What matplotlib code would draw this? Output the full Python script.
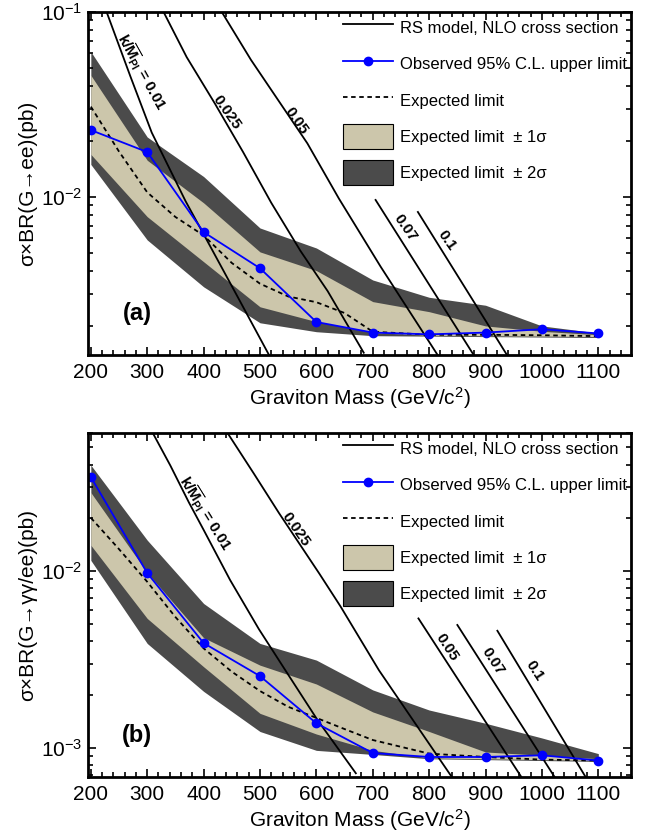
import matplotlib
matplotlib.use('Agg')
import matplotlib.pyplot as plt
from matplotlib.ticker import MultipleLocator, LogLocator, NullFormatter
from matplotlib.lines import Line2D
from matplotlib.patches import Patch

plt.rcParams['font.family'] = ['Liberation Sans', 'DejaVu Sans']
plt.rcParams['mathtext.fontset'] = 'custom'
plt.rcParams['mathtext.rm'] = 'Liberation Sans'
plt.rcParams['mathtext.it'] = 'Liberation Sans:italic'
plt.rcParams['mathtext.bf'] = 'Liberation Sans:bold'

# graviton masses (GeV/c^2)
masses = [200, 300, 400, 500, 600, 700, 800, 900, 1000, 1100]
exp_masses = [200, 250, 300, 350, 400, 450, 500, 550, 600, 650, 700, 800, 900, 1000, 1100]

# (a) G -> ee
ee_obs = [0.023, 0.0175, 0.00646, 0.00412, 0.00211, 0.00185, 0.00181, 0.00185, 0.00193, 0.00183]
ee_exp = [0.0308, 0.0176, 0.0106, 0.0078, 0.0062, 0.0044, 0.0034, 0.0029, 0.0027, 0.00236,
          0.00187, 0.0018, 0.0018, 0.00179, 0.00177]
ee_2up = [0.061, 0.0211, 0.0129, 0.0068, 0.0053, 0.00356, 0.00287, 0.0026, 0.00201, 0.00184]
ee_1up = [0.0455, 0.0158, 0.0093, 0.00505, 0.0040, 0.00272, 0.0024, 0.00201, 0.00188, 0.0018]
ee_1dn = [0.017, 0.00783, 0.00447, 0.00255, 0.00212, 0.00185, 0.00179, 0.00178, 0.00177, 0.00176]
ee_2dn = [0.015, 0.00586, 0.00327, 0.00209, 0.00187, 0.00178, 0.00177, 0.00176, 0.00175, 0.00174]

# RS model NLO cross sections, panel (a)
ee_rs_m = {
    '0.01': [228, 270, 308, 368, 400, 460, 516],
    '0.025': [329, 370, 420, 470, 520, 572, 620, 684],
    '0.05': [430, 484, 584, 640, 714, 815],
    '0.07': [705, 879],
    '0.1': [780, 938],
}
ee_rs_s = {
    '0.01': [0.1, 0.045, 0.0223, 0.0095, 0.0063, 0.0029, 0.0014],
    '0.025': [0.1, 0.057, 0.032, 0.0175, 0.0093, 0.0051, 0.0031, 0.00144],
    '0.05': [0.1026, 0.0551, 0.0195, 0.0098, 0.0042, 0.0014],
    '0.07': [0.00964, 0.0014],
    '0.1': [0.0083, 0.0014],
}

# (b) G -> gamma gamma / ee
gg_obs = [0.034, 0.00975, 0.00392, 0.00255, 0.00138, 0.000937, 0.00089, 0.00089, 0.00091, 0.00085]
gg_exp = [0.0200, 0.0133, 0.0087, 0.0055, 0.00366, 0.0027, 0.0021, 0.00171, 0.00148, 0.00128,
          0.00111, 0.00093, 0.00089, 0.00086, 0.00085]
gg_2up = [0.0397, 0.01496, 0.00656, 0.0039, 0.00314, 0.00213, 0.00164, 0.00138, 0.00114, 0.00093]
gg_1up = [0.0278, 0.0098, 0.0042, 0.00294, 0.0023, 0.0016, 0.00124, 0.00095, 0.00091, 0.00087]
gg_1dn = [0.014, 0.0054, 0.00288, 0.00157, 0.0012, 0.00097, 0.00088, 0.00087, 0.00086, 0.00085]
gg_2dn = [0.0115, 0.0039, 0.00209, 0.00124, 0.00097, 0.00092, 0.00087, 0.00086, 0.00085, 0.00084]

gg_rs_m = {
    '0.01': [307, 341, 374, 400, 447, 498, 552, 602, 670],
    '0.025': [439, 489, 534, 605, 643, 711, 841],
    '0.05': [781, 963],
    '0.07': [850, 1022],
    '0.1': [921, 1077],
}
gg_rs_s = {
    '0.01': [0.0627, 0.0395, 0.0244, 0.0171, 0.0089, 0.0047, 0.00254, 0.00144, 0.00072],
    '0.025': [0.0627, 0.0356, 0.0212, 0.0097, 0.0063, 0.00275, 0.00068],
    '0.05': [0.0054, 0.00069],
    '0.07': [0.00496, 0.00069],
    '0.1': [0.0046, 0.00069],
}

# label positions (mass, sigma) and rotation for the RS curves
ee_lab = {'0.01': (290, 0.0474, -61), '0.025': (441, 0.0288, -55), '0.05': (565, 0.0258, -55),
          '0.07': (757, 0.0068, -55), '0.1': (831, 0.00586, -55)}
gg_lab = {'0.01': (402, 0.021, -58), '0.025': (564, 0.0173, -55), '0.05': (832, 0.00373, -57),
          '0.07': (912, 0.0031, -57), '0.1': (986, 0.00272, -57)}

beige = '#CCC6AB'
dark = '#4B4B4B'


def draw_panel(ax, obs, exp, up2, up1, dn1, dn2, rs_m, rs_s, labs, ylim, ylab, tag):
    ax.fill_between(masses, dn2, up2, color=dark, lw=0)
    ax.fill_between(masses, dn1, up1, color=beige, lw=0)
    ax.plot(exp_masses, exp, color='black', ls=(0, (2.5, 2)), lw=1.3)
    for k in rs_m:
        ax.plot(rs_m[k], rs_s[k], color='black', lw=1.3)
    ax.plot(masses, obs, color='#0000FF', lw=1.3, marker='o', ms=6)

    for k in labs:
        x, y, rot = labs[k]
        if k == '0.01':
            txt = r'$\mathbf{k/\overline{M}_{Pl}}$ = 0.01'
        else:
            txt = k
        ax.text(x, y, txt, rotation=rot, ha='center', va='center', rotation_mode='anchor',
                fontsize=11, fontweight='bold')

    ax.text(0.09, 0.12, tag, transform=ax.transAxes, fontsize=17, fontweight='bold',
            ha='center', va='center')

    ax.set_yscale('log')
    ax.set_xlim(195, 1158)
    ax.set_ylim(ylim)
    ax.xaxis.set_major_locator(MultipleLocator(100))
    ax.xaxis.set_minor_locator(MultipleLocator(20))
    ax.yaxis.set_major_locator(LogLocator(base=10))
    ax.yaxis.set_minor_locator(LogLocator(base=10, subs=range(2, 10)))
    ax.yaxis.set_minor_formatter(NullFormatter())
    ax.tick_params(which='both', direction='in', top=True, right=True, labelsize=15, width=1.2)
    ax.tick_params(which='major', length=6)
    ax.tick_params(which='minor', length=3.5)
    ax.tick_params(axis='x', which='major', pad=6)
    ax.tick_params(axis='y', which='major', pad=4)
    for s in ax.spines.values():
        s.set_linewidth(2)
    ax.set_xlabel('Graviton Mass (GeV/c$^{2}$)', fontsize=15, labelpad=2)
    ax.set_ylabel(ylab, fontsize=15, labelpad=3)

    handles = [
        Line2D([], [], color='black', lw=1.3),
        Line2D([], [], color='#0000FF', lw=1.3, marker='o', ms=6),
        Line2D([], [], color='black', lw=1.3, ls=(0, (2.5, 2))),
        Patch(facecolor=beige, edgecolor='black', lw=0.8),
        Patch(facecolor=dark, edgecolor='black', lw=0.8),
    ]
    labels = ['RS model, NLO cross section', 'Observed 95% C.L. upper limit', 'Expected limit',
              'Expected limit  \u00b1 1\u03c3', 'Expected limit  \u00b1 2\u03c3']
    ax.legend(handles, labels, loc='upper left', bbox_to_anchor=(0.47, 0.99), frameon=False,
              fontsize=12, handlelength=3.0, handleheight=1.93, handletextpad=0.42,
              labelspacing=0.675, borderpad=0, borderaxespad=0, numpoints=1)


fig = plt.figure(figsize=(6.5, 8.38), dpi=100)
ax1 = fig.add_axes([0.1354, 0.5764, 0.8354, 0.4093])
ax2 = fig.add_axes([0.1354, 0.0728, 0.8354, 0.4105])

draw_panel(ax1, ee_obs, ee_exp, ee_2up, ee_1up, ee_1dn, ee_2dn, ee_rs_m, ee_rs_s, ee_lab,
           (1.4e-3, 0.1), '\u03c3\u00d7BR(G\u2192ee)(pb)', '(a)')
draw_panel(ax2, gg_obs, gg_exp, gg_2up, gg_1up, gg_1dn, gg_2dn, gg_rs_m, gg_rs_s, gg_lab,
           (6.86e-4, 0.0603), '\u03c3\u00d7BR(G\u2192\u03b3\u03b3/ee)(pb)', '(b)')

fig.savefig('out.png', dpi=100)
